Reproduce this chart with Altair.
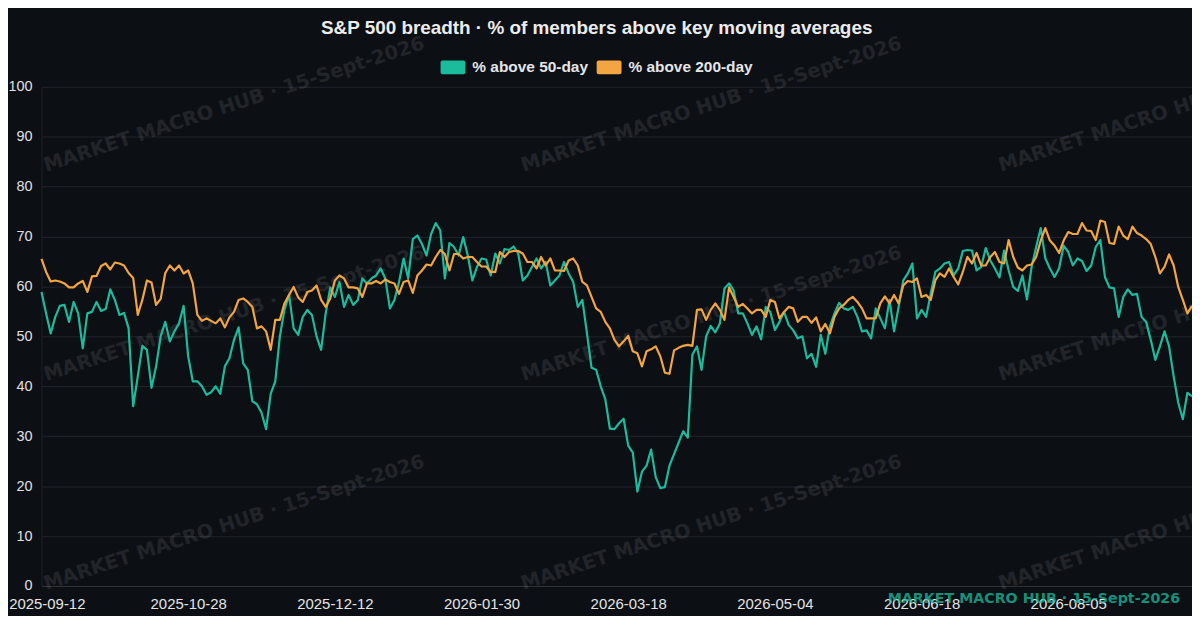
import altair as alt
import pandas as pd

# ---------------- data ----------------
SERIES = ["% above 50-day", "% above 200-day"]
COLORS = ["#1abc9c", "#f2a541"]

TICK_LABELS = ["2025-09-12", "2025-10-28", "2025-12-12", "2026-01-30",
               "2026-03-18", "2026-05-04", "2026-06-18", "2026-08-05"]

NYSE_HOLIDAYS = ["2025-11-27", "2025-12-25", "2026-01-01", "2026-01-19",
                 "2026-02-16", "2026-04-03", "2026-05-25", "2026-06-19",
                 "2026-07-03", "2026-09-07"]

PCT_ABOVE_50 = [
    58.9, 54.6, 50.6, 53.9, 56.1, 56.3, 52.9, 56.9, 54.6, 47.6, 54.6, 54.9, 56.9,
    55.1, 55.5, 59.4, 57.3, 54.3, 54.7, 51.6, 36.0, 42.0, 48.1, 47.3, 39.7, 44.0,
    50.0, 52.9, 49.0, 51.0, 52.6, 56.1, 46.0, 41.0, 41.0, 40.0, 38.3,
    38.8, 40.0, 38.5, 44.0, 45.6, 49.3, 51.8, 44.6, 43.3, 37.0, 36.4, 34.7, 31.4,
    38.5, 41.0, 50.0, 55.3, 58.3, 51.6, 50.3, 53.9, 55.3, 54.3, 50.0, 47.3, 54.6,
    59.8, 57.9, 60.9, 55.9, 58.3, 56.3, 57.3, 61.6, 60.6, 61.6, 62.2, 63.6, 61.6,
    55.6, 57.3, 60.9, 65.6,
    61.6, 69.5, 70.2, 68.5, 66.2, 70.5, 72.7, 71.2, 61.6, 68.7, 67.9, 66.2, 69.9,
    66.2, 61.2, 63.9, 65.6, 65.4, 62.2, 66.6, 64.6, 67.5, 67.3, 68.0, 66.6, 61.2,
    62.2, 63.9, 65.6, 63.6, 64.9, 60.2, 61.2, 62.2, 64.9, 62.6, 60.9, 55.9, 57.3,
    50.6, 43.7, 43.3, 40.0, 37.4,
    31.5, 31.4, 32.6, 33.5, 28.1, 26.7, 18.9, 22.9, 24.1, 27.3, 21.8, 19.6, 19.8,
    24.1, 26.4, 28.7, 31.0, 29.7, 46.3, 48.0, 43.3, 50.0, 52.1, 50.8, 52.6, 59.6,
    60.6, 59.2, 54.6, 54.6, 52.6, 50.3, 52.0, 49.4, 55.9, 54.9, 51.3, 52.9, 54.9,
    52.3, 51.2, 49.6, 50.0,
    45.6, 46.5, 43.9, 50.3, 46.5, 52.0, 54.6, 56.7, 55.6, 55.3, 55.9, 53.9, 51.0,
    51.2, 49.6, 55.6, 53.6, 51.6, 57.3, 51.0, 55.9, 61.2, 62.6, 64.6, 53.6, 55.3,
    53.9, 58.6, 62.9, 63.6, 64.6, 64.9, 62.2, 63.6, 67.1, 67.3, 67.2, 63.2, 63.9,
    67.7, 65.2, 63.6, 61.8,
    67.2, 63.2, 59.9, 59.1, 62.2, 57.4, 63.9, 67.9, 71.7, 65.6, 63.6, 61.9, 63.6,
    68.2, 66.9, 64.2, 65.6, 65.1, 63.1, 64.2, 67.9, 69.3, 61.9, 59.8, 59.6, 53.9,
    57.9, 59.4, 58.3, 58.5, 53.9, 52.9, 49.3, 45.3, 48.0, 51.0, 48.0, 42.0, 36.7,
    33.4, 38.7, 38.0,
]

PCT_ABOVE_200 = [
    65.5, 62.9, 61.0, 61.2, 61.0, 60.6, 59.8, 59.8, 60.6, 61.1, 58.9, 62.0, 62.1,
    64.1, 64.6, 63.4, 64.8, 64.6, 64.2, 62.7, 61.7, 54.3, 57.3, 61.2, 60.8, 56.3,
    57.5, 62.7, 64.2, 63.2, 64.2, 62.6, 63.2, 60.6, 54.3, 53.1, 53.6,
    53.1, 52.6, 53.6, 51.8, 53.8, 54.9, 57.3, 57.6, 56.9, 55.9, 51.6, 52.0, 51.0,
    47.3, 53.3, 53.3, 56.6, 58.3, 59.9, 57.8, 56.9, 58.9, 59.2, 60.2, 57.3, 55.9,
    57.6, 61.2, 62.2, 61.6, 59.8, 59.8, 59.6, 57.9, 60.6, 60.6, 61.1, 60.6, 61.4,
    60.9, 60.6, 58.5, 60.9,
    61.2, 58.7, 62.2, 63.2, 64.4, 64.2, 65.9, 67.3, 66.5, 63.2, 66.5, 66.5, 65.6,
    65.9, 65.9, 64.9, 64.0, 64.0, 62.9, 62.9, 66.9, 65.9, 66.9, 67.1, 67.1, 66.6,
    64.9, 64.9, 63.6, 65.9, 64.2, 65.6, 63.2, 63.2, 63.1, 65.2, 65.6, 64.2, 60.9,
    60.2, 57.9, 55.6, 54.9, 52.9,
    51.6, 49.3, 48.0, 49.0, 50.1, 47.0, 46.6, 44.0, 47.0, 47.4, 48.0, 46.0, 42.7,
    42.5, 47.2, 47.7, 48.1, 48.3, 48.1, 55.3, 55.4, 53.3, 55.3, 56.6, 55.3, 53.3,
    59.8, 57.9, 55.9, 56.5, 55.6, 54.6, 55.3, 55.3, 53.9, 57.3, 56.9, 53.6, 54.9,
    55.9, 55.6, 52.9, 53.9,
    53.9, 52.7, 53.8, 51.0, 52.5, 50.6, 53.9, 55.6, 56.3, 57.3, 57.9, 56.9, 55.6,
    53.6, 53.6, 53.6, 56.6, 58.0, 56.6, 58.3, 56.6, 60.2, 61.1, 60.9, 61.6, 57.9,
    58.3, 57.3, 61.2, 62.6, 61.9, 63.6, 61.9, 60.4, 62.9, 65.9, 64.6, 66.7, 64.2,
    64.2, 65.9, 66.9, 64.9,
    64.6, 69.3, 65.9, 63.8, 63.2, 64.2, 64.4, 65.9, 69.2, 71.7, 69.2, 68.2, 66.7,
    69.2, 70.9, 70.5, 70.5, 72.7, 71.2, 71.1, 69.3, 73.2, 72.9, 68.7, 68.5, 72.0,
    70.2, 69.5, 72.0, 70.7, 70.2, 69.5, 68.5, 65.9, 62.6, 63.9, 66.4, 64.2, 59.9,
    57.3, 54.6, 56.1,
]

TITLE = "S&P 500 breadth · % of members above key moving averages"
WATERMARK = "MARKET MACRO HUB · 15-Sept-2026"

# trading-day calendar (category axis)
dates = pd.bdate_range("2025-09-12", periods=len(PCT_ABOVE_50), freq="C",
                       holidays=NYSE_HOLIDAYS).strftime("%Y-%m-%d").tolist()

df = pd.concat([
    pd.DataFrame({"date": dates, "series": SERIES[0], "value": PCT_ABOVE_50}),
    pd.DataFrame({"date": dates, "series": SERIES[1], "value": PCT_ABOVE_200}),
], ignore_index=True)

# ---------------- layout / style ----------------
BG = "#0c0f14"
FONT = "Liberation Sans"
W, H = 1157, 502
PAD = {"left": 33.7, "top": 77.5, "right": 0, "bottom": 28}

WM_COLS = [4.8, 484.8, 964.8]
WM_ROWS = [85.5, 296.0, 506.2]

color_scale = alt.Scale(domain=SERIES, range=COLORS)

x_enc = alt.X(
    "date:O",
    scale=alt.Scale(type="point", padding=0),
    axis=alt.Axis(values=TICK_LABELS, labelAngle=0, ticks=False, grid=False,
                  domain=True, domainColor="#2e323a", labelColor="#e4e4e4",
                  labelFontSize=15, labelFont=FONT, labelPadding=11,
                  labelFlush=True, labelFlushOffset=33,
                  labelOverlap=False, title=None),
)
y_enc = alt.Y(
    "value:Q",
    scale=alt.Scale(domain=[0, 100], nice=False),
    axis=alt.Axis(values=list(range(0, 101, 10)), grid=True, gridColor="#20242b",
                  gridWidth=1, domain=True, domainColor="#1c2027", ticks=False,
                  labelPadding=9.5, labelColor="#e0e0e0", labelFontSize=14.5,
                  labelFont=FONT, title=None),
)

one = alt.Data(values=[{}])

watermarks = [
    alt.Chart(one).mark_text(
        text=WATERMARK, font="DejaVu Sans", fontWeight="bold", fontSize=19.5,
        angle=342, align="left", baseline="alphabetic", color="#ffffff",
        opacity=0.085,
    ).encode(x=alt.value(cx), y=alt.value(ry))
    for ry in WM_ROWS for cx in WM_COLS
]

line_layers = [
    alt.Chart(df).transform_filter(alt.datum.series == s).mark_line(
        strokeWidth=2.2, strokeJoin="round", color=c
    ).encode(x=x_enc, y=y_enc)
    for s, c in zip(SERIES, COLORS)
]

legend_layer = alt.Chart(pd.DataFrame({"series": SERIES})).mark_square(
    size=0, filled=True
).encode(
    color=alt.Color(
        "series:N", scale=color_scale, sort=SERIES,
        legend=alt.Legend(
            orient="none", legendX=401.3, legendY=-32, direction="horizontal",
            title=None, padding=0,
            symbolType="M-0.84,-0.56H0.84A0.16,0.16 0 0 1 1,-0.4V0.4A0.16,0.16 0 0 1 0.84,0.56H-0.84A0.16,0.16 0 0 1 -1,0.4V-0.4A0.16,0.16 0 0 1 -0.84,-0.56Z",
            symbolSize=625, symbolStrokeWidth=0, symbolOpacity=1,
            labelFont=FONT, labelFontSize=15.5, labelFontWeight="bold",
            labelColor="#e6e6e6", labelOffset=7, columnPadding=8,
        ),
    )
)

title = alt.Chart(one).mark_text(
    text=TITLE, font=FONT, fontSize=19, fontWeight="bold", color="#ececec",
    align="center", baseline="alphabetic",
).encode(x=alt.value(600 - 41.7), y=alt.value(32.3 - 85.5))

footer = alt.Chart(one).mark_text(
    text=WATERMARK, font="DejaVu Sans", fontWeight="bold", fontSize=14.3,
    align="right", baseline="alphabetic", color="#1abc9c", opacity=0.75,
).encode(x=alt.value(1145.0), y=alt.value(519.0))

chart = alt.layer(*watermarks, *line_layers, legend_layer, title, footer).properties(
    width=W, height=H, padding=PAD,
    autosize=alt.AutoSizeParams(type="none"),
    background=BG,
).configure_view(stroke=None)

chart.save("out.html", embed_options={"renderer": "svg", "actions": False})
